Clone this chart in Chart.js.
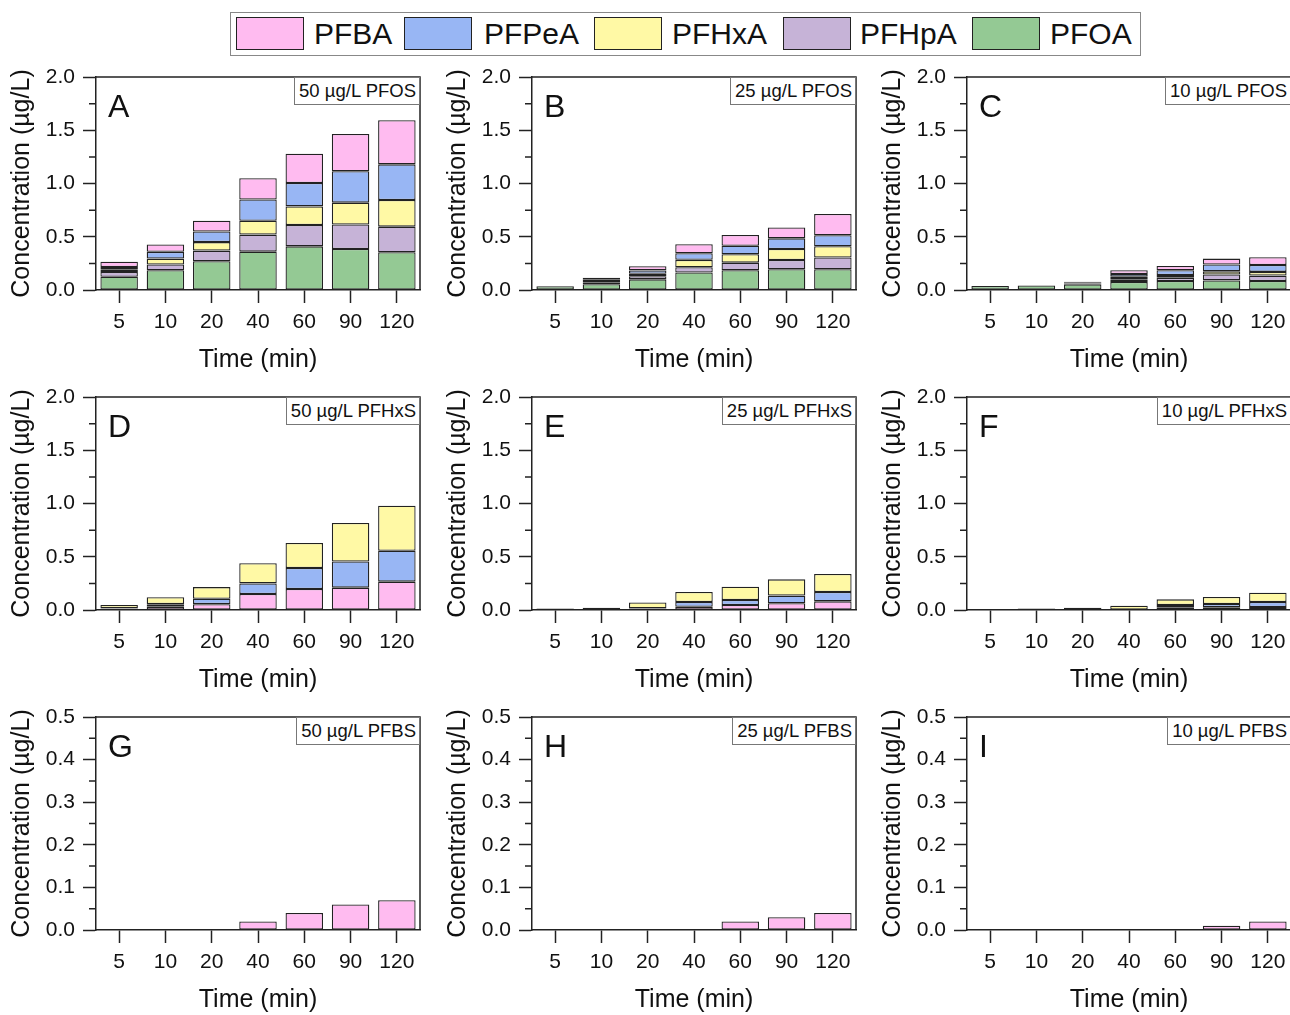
<!DOCTYPE html>
<html>
<head>
<meta charset="utf-8">
<script src="https://cdn.jsdelivr.net/npm/chart.js@4.4.0/dist/chart.umd.min.js"></script>
<style>
  body { margin: 0; width: 1290px; height: 1015px; position: relative; overflow: hidden; background: #fff;
         font-family: "Liberation Sans", Arial, sans-serif; color: #111; }
  canvas { position: absolute; }
  .legend-box { position: absolute; left: 230px; top: 12px; width: 909px; height: 42px; border: 1px solid #888; }
  .sw { position: absolute; top: 4px; width: 66px; height: 31px; border: 1.5px solid #222; }
  .lt { position: absolute; top: 0; line-height: 42px; font-size: 30px; }
  .letter { position: absolute; font-size: 32px; line-height: 1; }
  .tag { position: absolute; font-size: 18.5px; line-height: 26px; height: 26px; padding: 0 3px 0 4px;
         border: 1px solid #777; background: #fff; white-space: nowrap; }
</style>
</head>
<body>
<div class="legend-box" id="legend"></div>
<script>
const times = ['5', '10', '20', '40', '60', '90', '120'];
const species = ['PFBA', 'PFPeA', 'PFHxA', 'PFHpA', 'PFOA'];
const colors = ['#FFBBF0', '#98B6F4', '#FFF9A5', '#C6B3D7', '#94C994'];

// A: 50 ug/L PFOS
const a_PFOA  = [0.125, 0.185, 0.27, 0.36, 0.41, 0.385, 0.355];
const a_PFHpA = [0.045, 0.055, 0.10, 0.16, 0.20, 0.23, 0.24];
const a_PFHxA = [0.02, 0.055, 0.08, 0.13, 0.175, 0.205, 0.25];
const a_PFPeA = [0.025, 0.063, 0.10, 0.20, 0.22, 0.295, 0.335];
const a_PFBA  = [0.05, 0.07, 0.10, 0.20, 0.275, 0.35, 0.415];
// B: 25 ug/L PFOS
const b_PFOA  = [0.035, 0.055, 0.10, 0.165, 0.185, 0.195, 0.195];
const b_PFHpA = [0, 0.018, 0.03, 0.048, 0.072, 0.087, 0.11];
const b_PFHxA = [0, 0.012, 0.022, 0.07, 0.078, 0.103, 0.106];
const b_PFPeA = [0, 0.012, 0.032, 0.062, 0.081, 0.10, 0.103];
const b_PFBA  = [0, 0.018, 0.04, 0.085, 0.10, 0.103, 0.20];
// C: 10 ug/L PFOS
const c_PFOA  = [0.038, 0.042, 0.053, 0.075, 0.085, 0.09, 0.085];
const c_PFHpA = [0, 0, 0.008, 0.025, 0.03, 0.055, 0.05];
const c_PFHxA = [0, 0, 0.005, 0.025, 0.025, 0.03, 0.035];
const c_PFPeA = [0, 0, 0.006, 0.025, 0.045, 0.065, 0.065];
const c_PFBA  = [0, 0, 0.006, 0.035, 0.04, 0.055, 0.072];
// D: 50 ug/L PFHxS
const d_PFBA  = [0.012, 0.03, 0.055, 0.15, 0.197, 0.21, 0.266];
const d_PFPeA = [0.005, 0.025, 0.05, 0.10, 0.197, 0.245, 0.29];
const d_PFHxA = [0.03, 0.065, 0.11, 0.19, 0.235, 0.363, 0.423];
// E: 25 ug/L PFHxS
const e_PFBA  = [0, 0, 0.01, 0.03, 0.047, 0.063, 0.081];
const e_PFPeA = [0, 0, 0.005, 0.045, 0.047, 0.072, 0.088];
const e_PFHxA = [0.015, 0.02, 0.055, 0.094, 0.125, 0.153, 0.169];
// F: 10 ug/L PFHxS
const f_PFBA  = [0, 0, 0, 0, 0.025, 0.025, 0.028];
const f_PFPeA = [0, 0, 0, 0, 0.022, 0.031, 0.047];
const f_PFHxA = [0, 0.014, 0.022, 0.04, 0.053, 0.066, 0.088];
// G, H, I: PFBS
const g_PFBA = [0, 0, 0, 0.02, 0.04, 0.06, 0.07];
const h_PFBA = [0, 0, 0, 0, 0.02, 0.03, 0.04];
const i_PFBA = [0, 0, 0, 0, 0, 0.01, 0.02];

const pfosStack = (ba, pe, hx, hp, oa) => [['PFOA', oa], ['PFHpA', hp], ['PFHxA', hx], ['PFPeA', pe], ['PFBA', ba]];
const panels = [
  { letter: 'A', tag: '50 µg/L PFOS',  max: 2, step: 0.5, stack: pfosStack(a_PFBA, a_PFPeA, a_PFHxA, a_PFHpA, a_PFOA) },
  { letter: 'B', tag: '25 µg/L PFOS',  max: 2, step: 0.5, stack: pfosStack(b_PFBA, b_PFPeA, b_PFHxA, b_PFHpA, b_PFOA) },
  { letter: 'C', tag: '10 µg/L PFOS',  max: 2, step: 0.5, stack: pfosStack(c_PFBA, c_PFPeA, c_PFHxA, c_PFHpA, c_PFOA) },
  { letter: 'D', tag: '50 µg/L PFHxS', max: 2, step: 0.5, stack: [['PFBA', d_PFBA], ['PFPeA', d_PFPeA], ['PFHxA', d_PFHxA]] },
  { letter: 'E', tag: '25 µg/L PFHxS', max: 2, step: 0.5, stack: [['PFBA', e_PFBA], ['PFPeA', e_PFPeA], ['PFHxA', e_PFHxA]] },
  { letter: 'F', tag: '10 µg/L PFHxS', max: 2, step: 0.5, stack: [['PFBA', f_PFBA], ['PFPeA', f_PFPeA], ['PFHxA', f_PFHxA]] },
  { letter: 'G', tag: '50 µg/L PFBS',  max: 0.5, step: 0.1, stack: [['PFBA', g_PFBA]] },
  { letter: 'H', tag: '25 µg/L PFBS',  max: 0.5, step: 0.1, stack: [['PFBA', h_PFBA]] },
  { letter: 'I', tag: '10 µg/L PFBS',  max: 0.5, step: 0.1, stack: [['PFBA', i_PFBA]] }
];

// legend
const legend = document.getElementById('legend');
const swLeft = [5, 173, 363, 552, 741];
const txLeft = [83, 253, 441, 629, 819];
species.forEach((s, i) => {
  const sw = document.createElement('div');
  sw.className = 'sw'; sw.style.left = swLeft[i] + 'px'; sw.style.background = colors[i];
  legend.appendChild(sw);
  const t = document.createElement('div');
  t.className = 'lt'; t.style.left = txLeft[i] + 'px'; t.textContent = s;
  legend.appendChild(t);
});

// top and right frame lines, minor y ticks
const framePlugin = {
  id: 'frame',
  afterDraw(chart, args, opts) {
    const { ctx, chartArea: a } = chart;
    const y = chart.scales.y;
    ctx.save();
    ctx.strokeStyle = '#222';
    ctx.lineWidth = 1.5;
    ctx.beginPath();
    ctx.moveTo(a.left, a.top);
    ctx.lineTo(a.right, a.top);
    ctx.lineTo(a.right, a.bottom);
    const n = Math.round(y.max / opts.minor);
    for (let k = 1; k < n; k += 2) {
      const py = y.getPixelForValue(k * opts.minor);
      ctx.moveTo(a.left - 7, py);
      ctx.lineTo(a.left, py);
    }
    ctx.stroke();
    ctx.restore();
  }
};

const colLeft = [0, 436, 871];
const plotTops = [77, 397, 717];
const font = 'Liberation Sans, Arial, sans-serif';

panels.forEach((p, idx) => {
  const col = idx % 3, row = Math.floor(idx / 3);
  const plotTop = plotTops[row];
  const cv = document.createElement('canvas');
  cv.width = 440; cv.height = 318;
  cv.style.left = colLeft[col] + 'px';
  cv.style.top = (plotTop - 20) + 'px';
  document.body.appendChild(cv);

  const plotLeft = colLeft[col] + 96, plotRight = plotLeft + 324;

  const letter = document.createElement('div');
  letter.className = 'letter';
  letter.textContent = p.letter;
  letter.style.left = (plotLeft + 12) + 'px';
  letter.style.top = (plotTop + 13) + 'px';
  document.body.appendChild(letter);

  const tag = document.createElement('div');
  tag.className = 'tag';
  tag.textContent = p.tag;
  tag.style.right = (1290 - plotRight) + 'px';
  tag.style.top = plotTop + 'px';
  document.body.appendChild(tag);

  new Chart(cv, {
    type: 'bar',
    data: {
      labels: times,
      datasets: p.stack.map(([name, vals]) => ({
        label: name,
        data: vals.map(v => v === 0 ? null : v),
        backgroundColor: colors[species.indexOf(name)],
        borderColor: '#222',
        borderWidth: 1.3,
        borderSkipped: false,
        barPercentage: 0.81,
        categoryPercentage: 1
      }))
    },
    options: {
      responsive: false,
      animation: false,
      devicePixelRatio: 1,
      layout: { padding: { top: 20, right: 20, left: 0, bottom: 0 } },
      plugins: { legend: { display: false }, tooltip: { enabled: false }, frame: { minor: p.step / 2 } },
      scales: {
        x: {
          stacked: true,
          grid: { offset: false, drawOnChartArea: false, tickLength: 13, tickColor: '#222', tickWidth: 1.5 },
          border: { color: '#222', width: 1.5 },
          ticks: { color: '#111', font: { family: font, size: 21 }, padding: 7, maxRotation: 0 },
          title: { display: true, text: 'Time (min)', color: '#111', font: { family: font, size: 25 }, padding: { top: 0, bottom: 0 } },
          afterFit: s => { s.height = 85; s.paddingLeft = 0; s.paddingRight = 0; }
        },
        y: {
          stacked: true,
          min: 0, max: p.max,
          grid: { drawOnChartArea: false, tickLength: 13, tickColor: '#222', tickWidth: 1.5 },
          border: { color: '#222', width: 1.5 },
          ticks: { stepSize: p.step, color: '#111', font: { family: font, size: 21 }, padding: 8,
                   callback: v => v.toFixed(1) },
          title: { display: true, text: 'Concentration (µg/L)', color: '#111', font: { family: font, size: 25 }, padding: { top: 7, bottom: 0 } },
          afterFit: s => { s.width = 96; s.paddingTop = 0; s.paddingBottom = 0; }
        }
      }
    },
    plugins: [framePlugin]
  });
});
</script>
</body>
</html>
